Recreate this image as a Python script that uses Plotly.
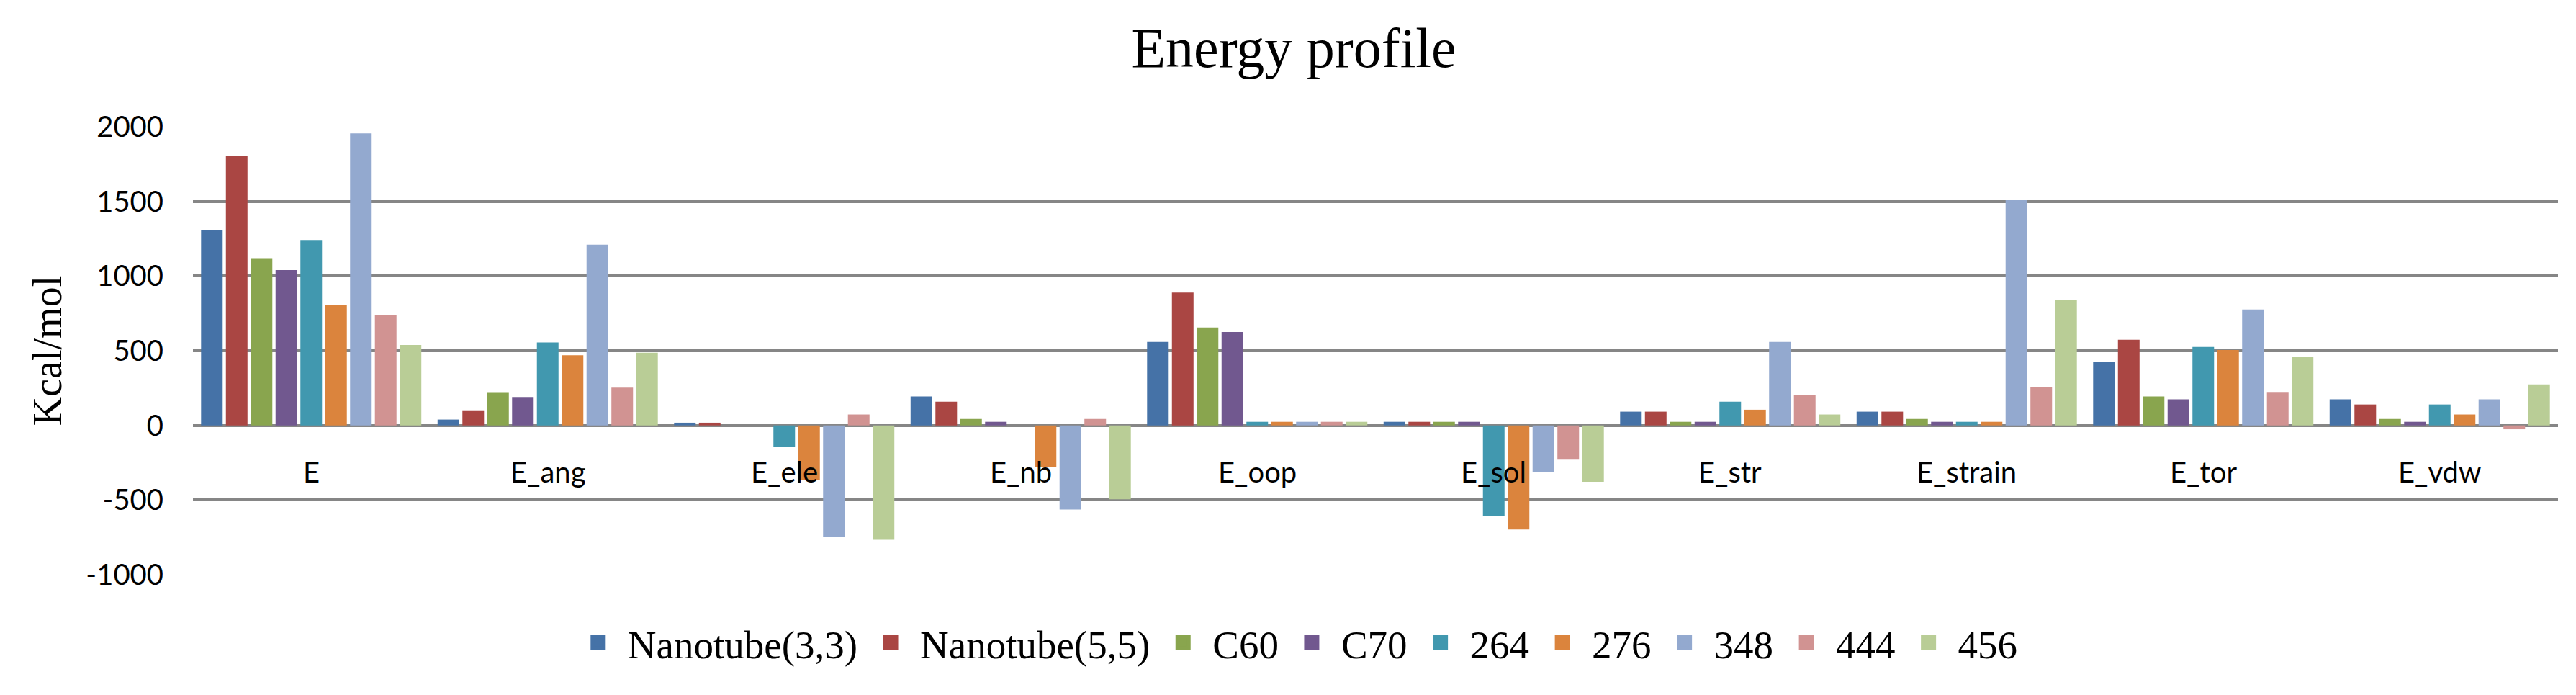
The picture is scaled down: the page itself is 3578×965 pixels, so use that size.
import plotly.graph_objects as go

# energy terms along the x axis
categories = ["E", "E_ang", "E_ele", "E_nb", "E_oop", "E_sol", "E_str", "E_strain", "E_tor", "E_vdw"]

# values in Kcal/mol, one list per structure
nanotube_33 = [1305, 39, 18, 194, 559, 24, 92, 92, 424, 174]
nanotube_55 = [1807, 101, 18, 159, 890, 24, 92, 92, 574, 140]
c60 = [1120, 223, 0, 43, 656, 24, 24, 43, 194, 43]
c70 = [1040, 190, 0, 24, 626, 24, 24, 24, 174, 24]
s264 = [1242, 556, -146, 0, 24, -609, 159, 24, 525, 140]
s276 = [808, 470, -366, -280, 24, -697, 105, 24, 505, 73]
s348 = [1955, 1210, -746, -563, 24, -312, 559, 1508, 776, 174]
s444 = [740, 253, 73, 43, 24, -230, 206, 256, 224, -26]
s456 = [538, 487, -766, -495, 24, -378, 73, 843, 458, 275]

series_names = ["Nanotube(3,3)", "Nanotube(5,5)", "C60", "C70", "264", "276", "348", "444", "456"]
series_values = [nanotube_33, nanotube_55, c60, c70, s264, s276, s348, s444, s456]
colors = ["#4572A7", "#AA4643", "#89A54E", "#71588F", "#4198AF",
          "#DB843D", "#93A9CF", "#D19392", "#B9CD96"]

# y ticks (excel writes a plain hyphen for negatives)
y_ticks = [-1000, -500, 0, 500, 1000, 1500, 2000]
y_tick_text = ["-1000", "-500", "0", "500", "1000", "1500", "2000"]

serif = "Liberation Serif, Times New Roman, serif"
sans = "Lato, Carlito, Calibri, sans-serif"

fig = go.Figure()
for name, vals, col in zip(series_names, series_values, colors):
    fig.add_trace(go.Bar(x=categories, y=vals, name=name, marker_color=col,
                         marker_line_width=0, showlegend=False, legendgroup=name))
    # bigger square swatch for the legend than the bar default
    fig.add_trace(go.Scatter(x=[None], y=[None], mode="markers", name=name,
                             legendgroup=name,
                             marker=dict(symbol="square", size=16, color=col,
                                         line=dict(color=col, width=5))))

# category labels sit just under the zero line, like in excel
for c in categories:
    fig.add_annotation(x=c, y=0, xref="x", yref="y", text=c, showarrow=False,
                       yanchor="middle", yshift=-64,
                       font=dict(family=sans, size=40, color="black"))

fig.update_layout(
    width=3578, height=965,
    paper_bgcolor="white", plot_bgcolor="white",
    margin=dict(l=260, r=33, t=168, b=175),
    barmode="group", bargap=0.055, bargroupgap=0.13,
    title=dict(text="Energy profile", x=0.5, xanchor="center", y=0.94, yanchor="middle",
               font=dict(family=serif, size=78, color="black")),
    legend=dict(orientation="h", x=0.466, xanchor="center", y=-0.152, yanchor="middle",
                font=dict(family=serif, size=55, color="black"), itemwidth=72,
                traceorder="normal"),
    showlegend=True,
)
fig.update_xaxes(showticklabels=False, showgrid=False, showline=False, ticks="")
fig.update_yaxes(range=[-1000, 2000], tickvals=y_ticks, ticktext=y_tick_text,
                 showgrid=True, gridcolor="#868686",
                 gridwidth=3.5, zeroline=True, zerolinecolor="#868686", zerolinewidth=3.5,
                 showline=False, ticks="", ticklabelstandoff=40,
                 tickfont=dict(family=sans, size=40, color="black"),
                 title=dict(text="Kcal/mol", standoff=15,
                            font=dict(family=serif, size=56, color="black")))

fig.write_html("out.html")
